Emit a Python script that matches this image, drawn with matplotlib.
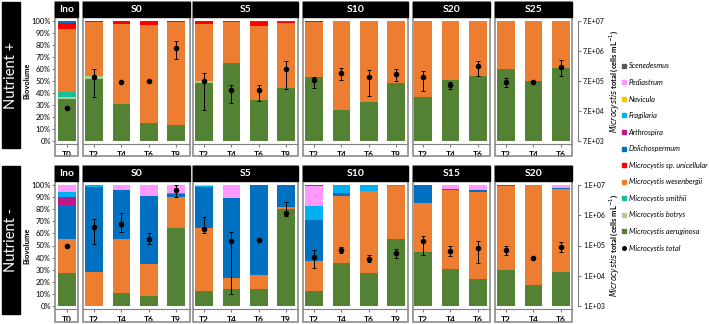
import numpy as np
import matplotlib
matplotlib.use("Agg")
import matplotlib.pyplot as plt
from matplotlib.patches import Rectangle
from matplotlib.lines import Line2D
from matplotlib.ticker import NullLocator

plt.rcParams["font.family"] = ["Lato", "DejaVu Sans"]
plt.rcParams["xtick.labelsize"] = 6
plt.rcParams["ytick.labelsize"] = 5.5

# ---- data -------------------------------------------------------------
species = ["Microcystis aeruginosa", "Microcystis botrys", "Microcystis smithii",
           "Microcystis wesenbergii", "Microcystis sp. unicellular", "Dolichospermum",
           "Arthrospira", "Fragilaria", "Navicula", "Pediastrum", "Scenedesmus"]
colors = ["#548235", "#A9D18E", "#1ABC9C", "#ED7D31", "#FF0000", "#0070C0",
          "#C0168C", "#00B0F0", "#FFC000", "#FF99FF", "#595959"]

top_groups = ["Ino", "S0", "S5", "S10", "S20", "S25"]
top_times = [["T0"], ["T2", "T4", "T6", "T9"], ["T2", "T4", "T6", "T9"],
             ["T2", "T4", "T6", "T9"], ["T2", "T4", "T6"], ["T2", "T4", "T6"]]
bot_groups = ["Ino", "S0", "S5", "S10", "S15", "S20"]
bot_times = top_times

# biovolume %, one value per bar (Ino, S0 x4, S5 x4, S10 x4, last two x3)
top_aeruginosa = [35, 52, 31, 15, 13, 48, 65, 34.5, 44, 53, 25.5, 32.5, 48.5, 37, 50.7, 54, 60, 50, 61]
top_botrys = [1.5, 2, 0, 0, 0, 2, 0, 0, 0, 0, 0, 0, 0, 0, 0, 0, 0, 0, 0]
top_smithii = [4.5, 0, 0, 0, 0, 0, 0, 0, 0, 0, 0, 0, 0, 0, 0, 0, 0, 0, 0]
top_wesenbergii = [52, 45.5, 66.5, 81.5, 86.5, 47.5, 34.5, 61.5, 54.5, 46, 74.5, 67.5, 51.5, 63, 49.3, 46, 40, 50, 39]
top_unicellular = [5.5, 0.3, 2.5, 3.5, 0.3, 2.5, 0, 3.5, 1.0, 1.0, 0, 0, 0, 0, 0, 0, 0, 0, 0]
top_dolicho = [1.5, 0.2, 0, 0, 0.2, 0, 0.5, 0.5, 0.5, 0, 0, 0, 0, 0, 0, 0, 0, 0, 0]
top_zero = [0] * 19

bot_aeruginosa = [27, 0, 10.5, 8.5, 64.5, 12, 14, 14, 80, 12, 35.5, 27.5, 55, 45, 30.5, 22, 30, 17, 28]
bot_wesenbergii = [28, 28, 44.5, 26, 25.5, 52.5, 9.5, 12, 1.5, 25, 55.5, 67.5, 44, 40.5, 65.5, 72, 69, 83, 69]
bot_dolicho = [28, 70, 40.5, 56.5, 2.5, 33.5, 65.5, 74, 18.5, 34, 2.5, 0, 0, 14.5, 1, 1.5, 0, 0, 0.5]
bot_arthrospira = [7, 0, 0, 0, 0, 0, 0, 0, 0, 0, 0, 0, 0, 0, 0, 0, 0, 0, 0]
bot_fragilaria = [4, 2, 0.5, 0, 0.5, 1, 0, 0, 0, 12, 6.5, 5, 1, 0, 0, 0, 0, 0, 0]
bot_pediastrum = [6, 0, 4, 9, 7, 1, 11, 0, 0, 16, 0, 0, 0, 0, 3, 4.5, 0, 0, 2.5]
bot_scenedesmus = [0, 0, 0, 0, 0, 0, 0, 0, 0, 1, 0, 0, 0, 0, 0, 0, 1, 0, 0]
bot_zero = [0] * 19

# Microcystis total (cells mL-1): mean, low, high
top_total = [9.0e4, 9.8e5, 6.4e5, 7.0e5, 9.1e6, 7.0e5, 3.5e5, 3.5e5, 1.76e6, 7.5e5, 1.31e6, 9.4e5,
             1.24e6, 9.8e5, 5.2e5, 2.17e6, 6.4e5, 6.7e5, 2.1e6]
top_low = [9.0e4, 2.1e5, 6.2e5, 6.8e5, 3.7e6, 7.7e4, 1.33e5, 1.46e5, 3.85e5, 4.2e5, 7.7e5, 2.3e5,
           7.0e5, 3.2e5, 3.85e5, 1.06e6, 4.4e5, 6.5e5, 1.06e6]
top_high = [9.0e4, 1.76e6, 6.6e5, 7.2e5, 1.46e7, 1.27e6, 5.3e5, 5.3e5, 3.35e6, 9.7e5, 1.84e6, 1.6e6,
            1.76e6, 1.53e6, 6.7e5, 3.2e6, 8.8e5, 6.9e5, 3.5e6]

bot_total = [1.0e5, 4.2e5, 5.0e5, 1.67e5, 6.9e6, 3.5e5, 1.4e5, 1.56e5, 1.2e6, 4.3e4, 7.1e4, 3.6e4,
             5.6e4, 1.37e5, 6.7e4, 8.2e4, 7.1e4, 3.9e4, 9.0e4]
bot_low = [1.0e5, 1.15e5, 2.75e5, 1.15e5, 4.0e6, 2.5e5, 2.5e3, 1.5e5, 9.1e5, 1.74e4, 5.5e4, 2.75e4,
           3.8e4, 4.8e4, 4.6e4, 2.6e4, 5.0e4, 3.9e4, 6.3e4]
bot_high = [1.0e5, 7.6e5, 1.15e6, 2.5e5, 1.0e7, 9.0e5, 2.75e5, 1.62e5, 2.75e6, 7.2e4, 9.1e4, 4.8e4,
            7.6e4, 2.1e5, 9.5e4, 1.4e5, 1.0e5, 3.9e4, 1.3e5]

top_stack = [top_aeruginosa, top_botrys, top_smithii, top_wesenbergii, top_unicellular,
             top_dolicho, top_zero, top_zero, top_zero, top_zero, top_zero]
bot_stack = [bot_aeruginosa, bot_zero, bot_zero, bot_wesenbergii, bot_zero, bot_dolicho,
             bot_arthrospira, bot_fragilaria, bot_zero, bot_pediastrum, bot_scenedesmus]

# ---- layout (pixels) --------------------------------------------------
W, H = 709, 324
frames = [(55, 78), (83, 190), (193, 298), (303, 408), (413, 490), (495, 572)]
first_center = [67, 94, 204, 314, 423, 506]
pitch = 27.4

fig = plt.figure(figsize=(W / 100, H / 100), dpi=100)
bold_labels = []


def fx(px):
    return px / W


def fy(py):
    return 1 - py / H


def draw_row(groups, times, stack, total, low, high, y100, y0, frame_top, frame_bot,
             rlim, rticks, rlabels, row_label):
    # left black label box
    fig.add_artist(Rectangle((fx(2), fy(frame_bot - 8)), fx(18), fy(frame_top) - fy(frame_bot - 8),
                             transform=fig.transFigure, color="black", zorder=0))
    fig.text(fx(11), fy((frame_top + frame_bot - 8) / 2), row_label, color="white", rotation=90,
             ha="center", va="center", fontsize=10.5)
    fig.text(fx(27), fy((y100 + y0) / 2), "Biovolume", rotation=90, ha="center", va="center",
             fontsize=5.5, fontweight="bold")
    idx = 0
    for g, (grp, tl) in enumerate(zip(groups, times)):
        left, right = frames[g]
        n = len(tl)
        xmin = -(first_center[g] - left) / pitch
        xmax = xmin + (right - left) / pitch
        ax = fig.add_axes([fx(left), fy(y0), fx(right - left), fy(y100) - fy(y0)])
        sl = slice(idx, idx + n)
        xs = np.arange(n)
        bottom = np.zeros(n)
        for vals, col in zip(stack, colors):
            v = np.array(vals[sl], dtype=float)
            ax.bar(xs, v, 0.64, bottom=bottom, color=col, linewidth=0)
            bottom += v
        ax.set_xlim(xmin, xmax)
        ax.set_ylim(0, 100)

        ax2 = ax.twinx()
        ax2.set_yscale("log")
        ax2.set_ylim(*rlim)
        m = np.array(total[sl])
        err = [m - np.array(low[sl]), np.array(high[sl]) - m]
        ax2.errorbar(xs, m, yerr=err, fmt="o", color="black", ms=3, elinewidth=0.7,
                     capsize=1.5, capthick=0.7)
        ax2.set_xlim(xmin, xmax)
        for s in ["top", "left", "bottom"]:
            ax2.spines[s].set_visible(False)
        ax2.yaxis.set_minor_locator(NullLocator())
        if g == len(groups) - 1:
            ax2.spines["right"].set_position(("outward", 4))
            ax2.spines["right"].set_color("#7f7f7f")
            ax2.set_yticks(rticks)
            ax2.set_yticklabels(rlabels)
            ax2.tick_params(axis="y", length=2, pad=2, color="#7f7f7f", labelsize=5)
            ax2.set_ylabel(r"$\it{Microcystis}$ total (cells mL$^{-1}$)", fontsize=5.5,
                           fontweight="bold", labelpad=2)
        else:
            ax2.spines["right"].set_visible(False)
            ax2.set_yticks([])

        ax.set_xticks(xs)
        ax.set_xticklabels(tl)
        ax.tick_params(axis="x", length=2, pad=3, color="#7f7f7f", labelsize=6)
        bold_labels.append(ax)
        for s in ["top", "right", "left"]:
            ax.spines[s].set_visible(False)
        ax.spines["bottom"].set_position(("outward", 2))
        ax.spines["bottom"].set_color("#7f7f7f")
        ax.spines["bottom"].set_linewidth(0.8)
        if g == 0:
            ax.set_yticks(np.arange(0, 101, 10))
            ax.set_yticklabels([f"{t}%" for t in range(0, 101, 10)])
            ax.tick_params(axis="y", length=2, pad=1, color="#7f7f7f", labelsize=5.5)
        else:
            ax.set_yticks([])

        # frame and header
        fig.add_artist(Rectangle((fx(left), fy(frame_bot)), fx(right - left),
                                 fy(frame_top) - fy(frame_bot), transform=fig.transFigure,
                                 fill=False, edgecolor="#8c8c8c", linewidth=1.2, zorder=5))
        fig.add_artist(Rectangle((fx(left), fy(frame_top + 15)), fx(right - left),
                                 fy(frame_top) - fy(frame_top + 15),
                                 transform=fig.transFigure, color="black", zorder=6))
        fig.text(fx((left + right) / 2), fy(frame_top + 7.5), grp, color="white", fontsize=7.5,
                 fontweight="bold", ha="center", va="center", zorder=7)
        idx += n


draw_row(top_groups, top_times, top_stack, top_total, top_low, top_high,
         21, 141, 2, 156, (7e3, 7e7), [7e3, 7e4, 7e5, 7e6, 7e7],
         ["7.E+03", "7.E+04", "7.E+05", "7.E+06", "7.E+07"], "Nutrient +")
draw_row(bot_groups, bot_times, bot_stack, bot_total, bot_low, bot_high,
         185, 306, 166, 322, (1e3, 1e7), [1e3, 1e4, 1e5, 1e6, 1e7],
         ["1.E+03", "1.E+04", "1.E+05", "1.E+06", "1.E+07"], "Nutrient -")

# legend
handles = []
labels = []
for name, col in list(zip(species, colors))[::-1]:
    handles.append(Line2D([], [], marker="s", linestyle="", color=col, markersize=3.0))
    labels.append(name)
handles.append(Line2D([], [], marker="o", linestyle="", color="black", markersize=2.6))
labels.append("Microcystis total")
fig.legend(handles, labels, loc="center left", bbox_to_anchor=(fx(619), fy(157)), frameon=False,
           prop={"size": 5.3, "style": "italic", "family": ["Lato", "DejaVu Sans"]},
           labelspacing=1.3, handlelength=0.5, handletextpad=0.4, borderaxespad=0)

for a in bold_labels:
    for t in a.get_xticklabels():
        t.set_fontweight("bold")

fig.savefig("out.png", dpi=100)
